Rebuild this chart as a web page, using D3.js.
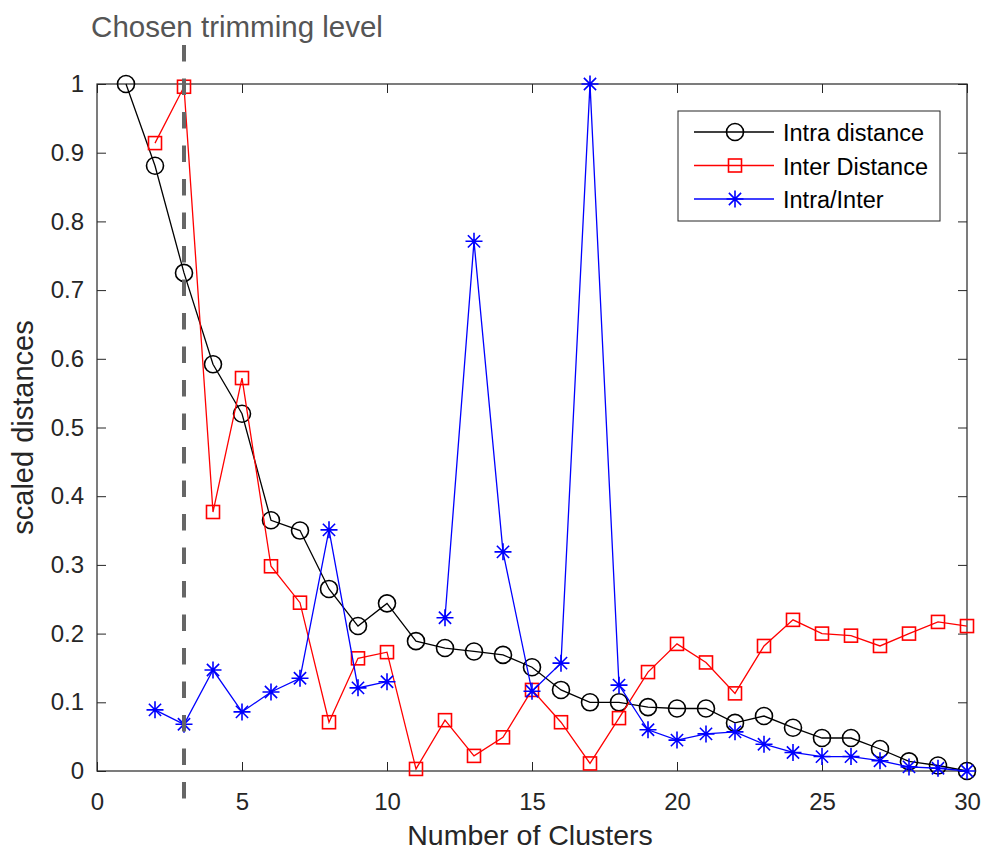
<!DOCTYPE html>
<html>
<head>
<meta charset="utf-8">
<script src="https://cdn.jsdelivr.net/npm/d3@7"></script>
<style>
	body { margin: 0; background: #fff; }
	svg { font-family: Arial, "Liberation Sans", sans-serif; }
</style>
</head>
<body>
<svg id="chart" width="984" height="853"></svg>
<script>
// values (null = no point)
const clusters = d3.range(1, 31);
const intraDistance = [1.0, 0.881, 0.725, 0.592, 0.520, 0.365, 0.350, 0.265, 0.211, 0.244,
	0.189, 0.179, 0.174, 0.169, 0.151, 0.118, 0.100, 0.100, 0.093, 0.091,
	0.091, 0.070, 0.080, 0.063, 0.048, 0.048, 0.032, 0.014, 0.008, 0.0];
const interDistance = [null, 0.914, 0.996, 0.377, 0.572, 0.298, 0.245, 0.071, 0.164, 0.173,
	0.003, 0.074, 0.022, 0.049, 0.118, 0.071, 0.011, 0.077, 0.144, 0.185,
	0.158, 0.113, 0.182, 0.220, 0.200, 0.197, 0.182, 0.200, 0.217, 0.211];
const intraInter = [null, 0.089, 0.068, 0.147, 0.086, 0.115, 0.135, 0.351, 0.121, 0.130,
	null, 0.223, 0.771, 0.319, 0.116, 0.157, 1.0, 0.125, 0.060, 0.045,
	0.054, 0.057, 0.039, 0.027, 0.021, 0.021, 0.015, 0.006, 0.004, 0.0];
const xTicks = [0, 5, 10, 15, 20, 25, 30];
const yTicks = d3.range(0, 11).map(d => d / 10);
const chosenLevel = 3;

const series = [
	{ name: "Intra distance", values: intraDistance, color: "#000000", marker: "circle" },
	{ name: "Inter Distance", values: interDistance, color: "#ff0000", marker: "square" },
	{ name: "Intra/Inter", values: intraInter, color: "#0000ff", marker: "star" }
];

const svg = d3.select("#chart");
const margin = { left: 97, right: 17, top: 84, bottom: 82 };
const width = 984 - margin.left - margin.right;
const height = 853 - margin.top - margin.bottom;

const x = d3.scaleLinear().domain([0, 30]).range([0, width]);
const y = d3.scaleLinear().domain([0, 1]).range([height, 0]);

const g = svg.append("g").attr("transform", `translate(${margin.left},${margin.top})`);

// axes, MATLAB style: ticks inside, box all round
const axisColor = "#262626";
function styleAxis(sel, labels) {
	sel.select(".domain").remove();
	sel.selectAll(".tick line").attr("stroke", axisColor).attr("stroke-width", 1);
	sel.selectAll(".tick text").attr("fill", "#262626").style("font-size", "24px");
	if (!labels) sel.selectAll(".tick text").remove();
}

g.append("g").attr("transform", `translate(0,${height})`)
	.call(d3.axisBottom(x).tickValues(xTicks).tickSize(-9).tickPadding(22).tickFormat(d3.format("d")))
	.call(s => styleAxis(s, true));
g.append("g")
	.call(d3.axisTop(x).tickValues(xTicks).tickSize(-9))
	.call(s => styleAxis(s, false));
g.append("g")
	.call(d3.axisLeft(y).tickValues(yTicks).tickSize(-9).tickPadding(13).tickFormat(d => String(+d.toFixed(1))))
	.call(s => styleAxis(s, true));
g.append("g").attr("transform", `translate(${width},0)`)
	.call(d3.axisRight(y).tickValues(yTicks).tickSize(-9))
	.call(s => styleAxis(s, false));

g.append("rect")
	.attr("width", width).attr("height", height)
	.attr("fill", "none").attr("stroke", axisColor).attr("stroke-width", 1.2);

// lines and markers
const line = d3.line()
	.defined(d => d.v !== null)
	.x(d => x(d.k))
	.y(d => y(d.v));

function drawMarker(sel, type, color) {
	if (type === "circle") {
		sel.append("circle").attr("r", 8.5)
			.attr("fill", "none").attr("stroke", color).attr("stroke-width", 1.6);
	} else if (type === "square") {
		sel.append("rect").attr("x", -6.5).attr("y", -6.5).attr("width", 13).attr("height", 13)
			.attr("fill", "none").attr("stroke", color).attr("stroke-width", 1.6);
	} else {
		const r = 8.5, q = r * 0.72;
		sel.append("path")
			.attr("d", `M${-r},0L${r},0M0,${-r}L0,${r}M${-q},${-q}L${q},${q}M${-q},${q}L${q},${-q}`)
			.attr("fill", "none").attr("stroke", color).attr("stroke-width", 1.6);
	}
}

series.forEach(s => {
	const pts = clusters.map((k, i) => ({ k: k, v: s.values[i] }));
	g.append("path")
		.datum(pts)
		.attr("d", line)
		.attr("fill", "none")
		.attr("stroke", s.color)
		.attr("stroke-width", 1.3);
	g.append("g").selectAll("g")
		.data(pts.filter(d => d.v !== null))
		.join("g")
		.attr("transform", d => `translate(${x(d.k)},${y(d.v)})`)
		.each(function () { drawMarker(d3.select(this), s.marker, s.color); });
});

// chosen trimming level
svg.append("line")
	.attr("x1", margin.left + x(chosenLevel)).attr("x2", margin.left + x(chosenLevel))
	.attr("y1", 45).attr("y2", 799)
	.attr("stroke", "#666666").attr("stroke-width", 4)
	.attr("stroke-dasharray", "16.5,17");
svg.append("text")
	.attr("x", 237).attr("y", 37)
	.attr("text-anchor", "middle")
	.attr("fill", "#555555")
	.style("font-size", "29.5px")
	.text("Chosen trimming level");

// axis titles
svg.append("text")
	.attr("x", margin.left + width / 2 - 2).attr("y", 845)
	.attr("text-anchor", "middle")
	.attr("fill", "#262626")
	.style("font-size", "28.5px")
	.text("Number of Clusters");
svg.append("text")
	.attr("transform", `translate(33,${margin.top + height / 2}) rotate(-90)`)
	.attr("text-anchor", "middle")
	.attr("fill", "#262626")
	.style("font-size", "29px")
	.text("scaled distances");

// legend
const legend = svg.append("g").attr("transform", "translate(678,111)");
legend.append("rect")
	.attr("width", 262).attr("height", 110)
	.attr("fill", "#fff").attr("stroke", axisColor).attr("stroke-width", 1);
series.forEach((s, i) => {
	const row = legend.append("g").attr("transform", `translate(0,${21 + i * 33.5})`);
	row.append("line").attr("x1", 16).attr("x2", 96)
		.attr("stroke", s.color).attr("stroke-width", 1.3);
	drawMarker(row.append("g").attr("transform", "translate(57,0)"), s.marker, s.color);
	row.append("text").attr("x", 105).attr("y", 9)
		.attr("fill", "#000")
		.style("font-size", "23.5px")
		.text(s.name);
});
</script>
</body>
</html>
